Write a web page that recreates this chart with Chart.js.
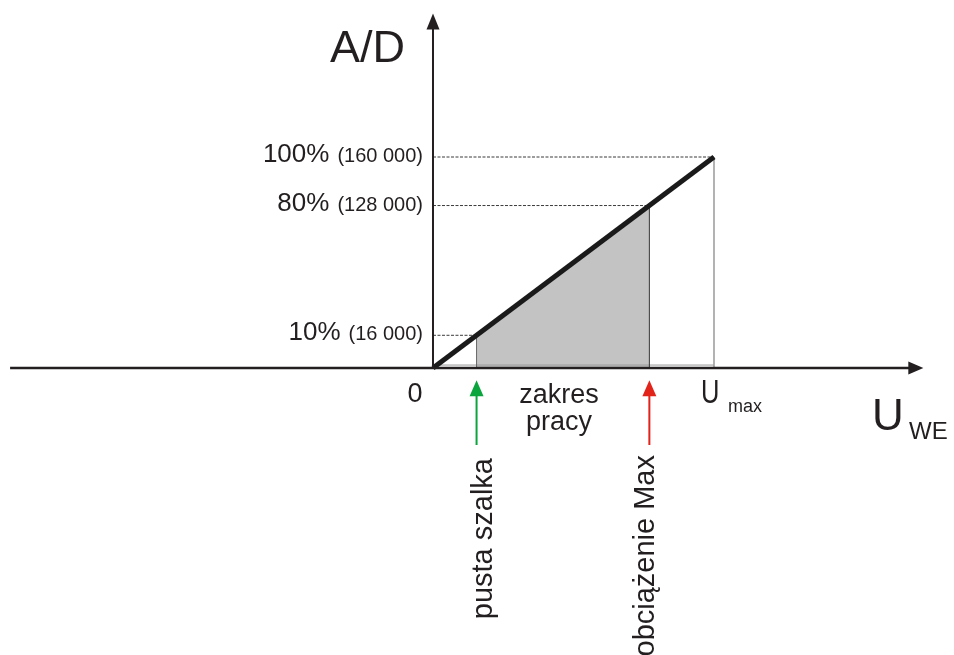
<!DOCTYPE html>
<html>
<head>
<meta charset="utf-8">
<script src="https://cdn.jsdelivr.net/npm/chart.js@4.4.1/dist/chart.umd.min.js"></script>
<style>
body{margin:0;background:#fff;}
#wrap{width:954px;height:655px;position:relative;}
</style>
</head>
<body>
<div id="wrap"><canvas id="adChart"></canvas></div>
<script>
'use strict'

/* dane wykresu */
// poziomy A/D - na rysunku nie sa w skali, levelPos to miejsce na osi
const levelPct = ['10%', '80%', '100%'];
const levelCount = ['(16 000)', '(128 000)', '(160 000)'];
const levelPos = [15.5, 77, 100];
// charakterystyka U_WE -> A/D
const lineU = [0, 100];
const lineAD = [0, 100];
// strzalki pod osia
const markerNames = ['pusta szalka', 'obciążenie Max'];
const markerU = [15.5, 77];
const markerColors = ['#0aa53c', '#e2231a'];
const rangeText = ['zakres', 'pracy'];

const FONT = '"Liberation Sans", Arial, sans-serif';
const INK = '#231f20';

// odcinki pomocnicze
function seg(x1, y1, x2, y2, color, width, dash, order){
  return {
    data: [{x: x1, y: y1}, {x: x2, y: y2}],
    showLine: true, borderColor: color, borderWidth: width,
    borderDash: dash || [], pointRadius: 0, fill: false, order: order
  };
}

const datasets = [];
// glowna prosta
datasets.push(seg(lineU[0], lineAD[0], lineU[1], lineAD[1], '#1a1a1a', 5, null, 0));
// zakres pracy - szare pole
datasets.push({
  data: [{x: markerU[0], y: markerU[0]}, {x: markerU[1], y: markerU[1]}],
  showLine: true, borderWidth: 0, pointRadius: 0,
  fill: 'origin', backgroundColor: '#c3c3c3', order: 9
});
// linie przerywane od osi
levelPos.forEach(function(v){
  datasets.push(seg(0, v, v, v, '#3a3a3a', 1, [3, 1.5], 5));
});
// pionowe linie
datasets.push(seg(markerU[0], 0, markerU[0], markerU[0], '#666', 1, null, 4));
datasets.push(seg(markerU[1], 0, markerU[1], markerU[1], '#333', 1, null, 4));
datasets.push(seg(lineU[1], 0, lineU[1], lineAD[1], '#999', 1.5, null, 4));
datasets.push(seg(0, 1.4, lineU[1], 1.4, '#999', 1, null, 4));
// strzalki kolorowe (trzonki)
markerU.forEach(function(u, i){
  datasets.push(seg(u, -36.5, u, -12, markerColors[i], 2, null, 3));
});

function arrowHead(ctx, tx, ty, dir, len, half, color){
  ctx.fillStyle = color;
  ctx.beginPath();
  ctx.moveTo(tx, ty);
  if(dir == 'up'){
    ctx.lineTo(tx - half, ty + len);
    ctx.lineTo(tx + half, ty + len);
  } else {
    ctx.lineTo(tx - len, ty - half);
    ctx.lineTo(tx - len, ty + half);
  }
  ctx.closePath();
  ctx.fill();
}

const drawing = {
  id: 'drawing',
  afterDatasetsDraw(chart){
    const ctx = chart.ctx;
    const sx = chart.scales.x, sy = chart.scales.y;
    const ox = sx.getPixelForValue(0), oy = sy.getPixelForValue(0);
    ctx.save();

    // osie
    ctx.strokeStyle = INK;
    ctx.lineWidth = 2.5;
    ctx.beginPath();
    ctx.moveTo(sx.getPixelForValue(-150.5), oy);
    ctx.lineTo(sx.getPixelForValue(170), oy);
    ctx.stroke();
    arrowHead(ctx, sx.getPixelForValue(174.5), oy, 'right', 15, 6.5, INK);

    ctx.lineWidth = 2;
    ctx.beginPath();
    ctx.moveTo(ox, oy);
    ctx.lineTo(ox, sy.getPixelForValue(161));
    ctx.stroke();
    arrowHead(ctx, ox, sy.getPixelForValue(168), 'up', 16, 6.5, INK);

    // groty kolorowych strzalek
    markerU.forEach(function(u, i){
      arrowHead(ctx, sx.getPixelForValue(u), sy.getPixelForValue(-5.8), 'up', 16, 7, markerColors[i]);
    });

    ctx.fillStyle = INK;
    ctx.textBaseline = 'alphabetic';

    // opisy poziomow
    levelPos.forEach(function(v, i){
      const yp = sy.getPixelForValue(v) + 5;
      ctx.textAlign = 'right';
      ctx.font = '20px ' + FONT;
      ctx.fillText(levelCount[i], ox - 10, yp);
      const w = ctx.measureText(levelCount[i]).width;
      ctx.font = '26px ' + FONT;
      ctx.fillText(levelPct[i], ox - 10 - w - 8, yp);
    });

    // A/D
    ctx.textAlign = 'left';
    ctx.font = '45px ' + FONT;
    ctx.fillText('A/D', ox - 103, 62);

    // 0
    ctx.textAlign = 'center';
    ctx.font = '27px ' + FONT;
    ctx.fillText('0', ox - 18, oy + 34);

    // zakres pracy
    const mid = (sx.getPixelForValue(markerU[0]) + sx.getPixelForValue(markerU[1])) / 2;
    ctx.font = '27px ' + FONT;
    ctx.fillText(rangeText[0], mid - 4, oy + 35);
    ctx.fillText(rangeText[1], mid - 4, oy + 62);

    // U max
    const um = sx.getPixelForValue(lineU[1]);
    ctx.textAlign = 'left';
    ctx.save();
    ctx.translate(um - 13, oy + 35);
    ctx.scale(0.75, 1);
    ctx.font = '34px ' + FONT;
    ctx.fillText('U', 0, 0);
    ctx.restore();
    ctx.font = '18px ' + FONT;
    ctx.fillText('max', um + 14, oy + 44);

    // U WE
    ctx.font = '44px ' + FONT;
    ctx.fillText('U', 872, oy + 62);
    ctx.font = '24px ' + FONT;
    ctx.fillText('WE', 909, oy + 71);

    // napisy pionowe
    ctx.font = '29px ' + FONT;
    ctx.textAlign = 'right';
    ctx.save();
    ctx.translate(sx.getPixelForValue(markerU[0]) + 15, 458);
    ctx.rotate(-Math.PI / 2);
    ctx.fillText(markerNames[0], 0, 0);
    ctx.restore();
    ctx.save();
    ctx.translate(sx.getPixelForValue(markerU[1]) + 5, 455);
    ctx.rotate(-Math.PI / 2);
    ctx.fillText(markerNames[1], 0, 0);
    ctx.restore();

    ctx.restore();
  }
};

const cv = document.getElementById('adChart').getContext('2d');
const chart = new Chart(cv, {
  type: 'scatter',
  data: { datasets: datasets },
  options: {
    responsive: true,
    maintainAspectRatio: false,
    animation: false,
    layout: { padding: 0 },
    plugins: { legend: { display: false }, tooltip: { enabled: false } },
    scales: {
      x: { type: 'linear', display: false, min: -154.09, max: 185.41 },
      y: { type: 'linear', display: false, min: -136.02, max: 174.41 }
    }
  },
  plugins: [drawing]
});
</script>
</body>
</html>
